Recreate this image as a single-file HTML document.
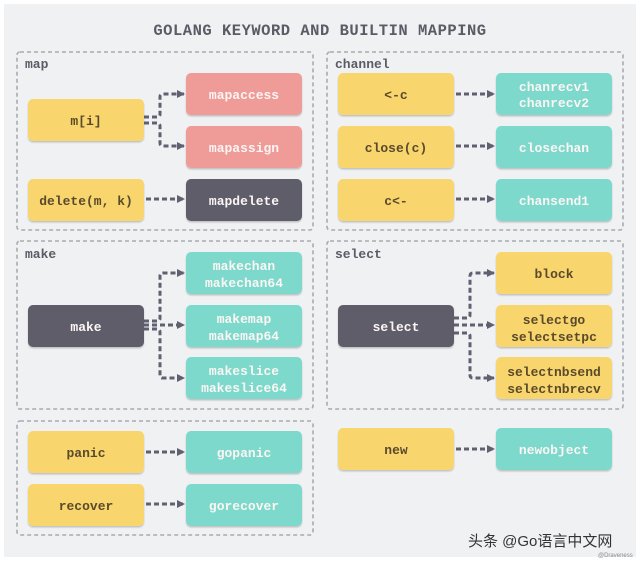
<!DOCTYPE html>
<html><head><style>
body{margin:0;background:#fff;width:640px;height:562px;overflow:hidden}
svg text{font-family:"Liberation Mono",monospace;font-weight:bold;font-size:13px}
</style></head><body>
<svg width="640" height="562" xmlns="http://www.w3.org/2000/svg">
<defs><marker id="a" markerWidth="8" markerHeight="8" refX="7" refY="4" orient="auto" markerUnits="userSpaceOnUse"><path d="M0,0 L8,4 L0,8z" fill="#606070"/></marker>
<filter id="s"><feDropShadow dx="0" dy="1.5" stdDeviation="0.8" flood-color="#000" flood-opacity="0.2"/></filter></defs>
<rect x="4" y="4" width="632" height="553" fill="#f0f1f3"/>
<text x="320" y="35" text-anchor="middle" fill="#5b5b66" style="font-size:15.5px;letter-spacing:0.5px">GOLANG KEYWORD AND BUILTIN MAPPING</text>
<g fill="none" stroke="#a9abb0" stroke-width="1.6" stroke-dasharray="4,3">
<rect x="17" y="52" width="296" height="178" rx="3"/>
<rect x="327" y="52" width="296" height="178" rx="3"/>
<rect x="17" y="241" width="296" height="168" rx="3"/>
<rect x="327" y="241" width="296" height="168" rx="3"/>
<rect x="17" y="421" width="296" height="114" rx="3"/>
</g>
<g fill="#5b5b66" style="font-size:13px"><text x="25" y="68">map</text><text x="335" y="68">channel</text><text x="25" y="258">make</text><text x="335" y="258">select</text></g>
<g fill="none" stroke="#606070" stroke-width="3" stroke-dasharray="5,3" marker-end="url(#a)">
<path d="M144,117 H157 Q160,117 160,114 V97 Q160,94 163,94 H184"/><path d="M144,123 H157 Q160,123 160,126 V143 Q160,146 163,146 H184"/>
<path d="M146,199 H184"/>
<path d="M456,94 H494"/><path d="M456,146 H494"/><path d="M456,199 H494"/>
<path d="M144,321 H157 Q160,321 160,318 V276 Q160,273 163,273 H184"/><path d="M144,325 H184"/><path d="M144,329 H157 Q160,329 160,332 V375 Q160,378 163,378 H184"/>
<path d="M454,318 H467 Q470,318 470,315 V276 Q470,273 473,273 H494"/><path d="M454,325 H494"/><path d="M454,333 H467 Q470,333 470,336 V375 Q470,378 473,378 H494"/>
<path d="M146,452 H184"/><path d="M146,504 H184"/><path d="M456,449 H494"/>
</g>
<g filter="url(#s)">
<rect x="28" y="99" width="116" height="42" rx="5" fill="#f9d56e"/>
<rect x="186" y="73" width="116" height="42" rx="5" fill="#ef9b98"/>
<rect x="186" y="126" width="116" height="42" rx="5" fill="#ef9b98"/>
<rect x="28" y="179" width="116" height="42" rx="5" fill="#f9d56e"/>
<rect x="186" y="179" width="116" height="42" rx="5" fill="#5e5d6a"/>
<rect x="338" y="73" width="116" height="42" rx="5" fill="#f9d56e"/>
<rect x="338" y="126" width="116" height="42" rx="5" fill="#f9d56e"/>
<rect x="338" y="179" width="116" height="42" rx="5" fill="#f9d56e"/>
<rect x="496" y="73" width="116" height="42" rx="5" fill="#7ed9cd"/>
<rect x="496" y="126" width="116" height="42" rx="5" fill="#7ed9cd"/>
<rect x="496" y="179" width="116" height="42" rx="5" fill="#7ed9cd"/>
<rect x="28" y="305" width="116" height="42" rx="5" fill="#5e5d6a"/>
<rect x="186" y="252" width="116" height="42" rx="5" fill="#7ed9cd"/>
<rect x="186" y="305" width="116" height="42" rx="5" fill="#7ed9cd"/>
<rect x="186" y="357" width="116" height="42" rx="5" fill="#7ed9cd"/>
<rect x="338" y="305" width="116" height="42" rx="5" fill="#5e5d6a"/>
<rect x="496" y="252" width="116" height="42" rx="5" fill="#f9d56e"/>
<rect x="496" y="305" width="116" height="42" rx="5" fill="#f9d56e"/>
<rect x="496" y="357" width="116" height="42" rx="5" fill="#f9d56e"/>
<rect x="28" y="431" width="116" height="42" rx="5" fill="#f9d56e"/>
<rect x="28" y="484" width="116" height="42" rx="5" fill="#f9d56e"/>
<rect x="186" y="431" width="116" height="42" rx="5" fill="#7ed9cd"/>
<rect x="186" y="484" width="116" height="42" rx="5" fill="#7ed9cd"/>
<rect x="338" y="428" width="116" height="42" rx="5" fill="#f9d56e"/>
<rect x="496" y="428" width="116" height="42" rx="5" fill="#7ed9cd"/>
</g>
<g text-anchor="middle" fill="#5a4a2c">
<text x="86" y="125">m[i]</text><text x="86" y="205">delete(m, k)</text>
<text x="396" y="99">&lt;-c</text><text x="396" y="152">close(c)</text><text x="396" y="205">c&lt;-</text>
<text x="554" y="278">block</text><text x="554" y="324">selectgo</text><text x="554" y="341">selectsetpc</text>
<text x="554" y="376">selectnbsend</text><text x="554" y="393">selectnbrecv</text>
<text x="86" y="457">panic</text><text x="86" y="510">recover</text><text x="396" y="454">new</text>
</g>
<g text-anchor="middle" fill="#fbf5f3">
<text x="244" y="99">mapaccess</text><text x="244" y="152">mapassign</text><text x="244" y="205">mapdelete</text>
<text x="554" y="91">chanrecv1</text><text x="554" y="107">chanrecv2</text><text x="554" y="152">closechan</text><text x="554" y="205">chansend1</text>
<text x="86" y="331">make</text><text x="396" y="331">select</text>
<text x="244" y="270">makechan</text><text x="244" y="287">makechan64</text>
<text x="244" y="323">makemap</text><text x="244" y="340">makemap64</text>
<text x="244" y="375">makeslice</text><text x="244" y="392">makeslice64</text>
<text x="244" y="457">gopanic</text><text x="244" y="510">gorecover</text><text x="554" y="454">newobject</text>
</g>
<text x="468" y="546" fill="#333" style="font-family:'Liberation Sans','Noto Sans CJK SC',sans-serif;font-weight:normal;font-size:15px">头条 @Go语言中文网</text>
<text x="598" y="557" fill="#888" style="font-family:'Liberation Sans',sans-serif;font-weight:normal;font-size:6px">@Draveness</text>
</svg>
</body></html>
